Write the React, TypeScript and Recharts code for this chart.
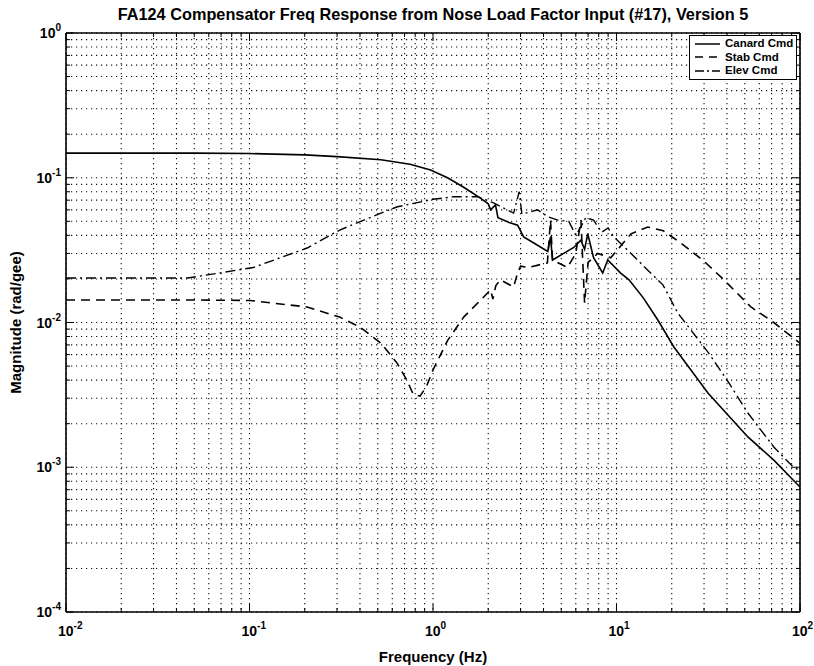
import React from 'react';
import { LineChart, Line, XAxis, YAxis, CartesianGrid, Legend } from 'recharts';

const FONT = '"Liberation Sans", Arial, sans-serif';

// decades shown on the axes
const xDecades = [0.01, 0.1, 1, 10, 100];
const yDecades = [0.0001, 0.001, 0.01, 0.1, 1];

// Canard Cmd (solid)
const canardFreq = [0.01, 0.05, 0.1, 0.2, 0.3, 0.52, 0.75, 0.97, 1.2, 1.47, 1.82, 2.0, 2.06, 2.19, 2.26, 2.6, 2.89, 3.12, 3.6, 4.22, 4.37, 4.48, 5.15, 5.85, 6.39, 6.7, 6.97, 7.5, 8.41, 8.96, 10.5, 11.7, 14, 16.8, 20.5, 31.5, 52, 72, 100];
const canardMag = [0.148, 0.148, 0.147, 0.144, 0.14, 0.133, 0.124, 0.113, 0.1, 0.086, 0.072, 0.066, 0.06, 0.065, 0.053, 0.049, 0.047, 0.039, 0.035, 0.031, 0.039, 0.027, 0.03, 0.033, 0.037, 0.032, 0.041, 0.028, 0.022, 0.027, 0.022, 0.0197, 0.0148, 0.0104, 0.0068, 0.00326, 0.00162, 0.00112, 0.00073];

// Stab Cmd (dashed)
const stabFreq = [0.01, 0.05, 0.1, 0.206, 0.31, 0.4, 0.52, 0.64, 0.72, 0.78, 0.85, 0.92, 1.0, 1.2, 1.47, 1.82, 2.06, 2.12, 2.2, 2.33, 2.75, 2.89, 3.0, 3.3, 4.2, 4.37, 4.48, 5.4, 6.0, 6.4, 6.7, 7.0, 7.9, 9.3, 12, 14.8, 18, 22.4, 30, 38.5, 54, 72, 100];
const stabMag = [0.0143, 0.0143, 0.0142, 0.0128, 0.0109, 0.0093, 0.0072, 0.0052, 0.004, 0.0032, 0.0031, 0.0036, 0.0047, 0.0075, 0.0109, 0.0143, 0.0168, 0.0145, 0.018, 0.0197, 0.0176, 0.022, 0.0245, 0.024, 0.0258, 0.051, 0.027, 0.024, 0.03, 0.051, 0.0136, 0.026, 0.03, 0.028, 0.041, 0.0457, 0.043, 0.0354, 0.0265, 0.0197, 0.0128, 0.01, 0.0072];

// Elev Cmd (dash-dot)
const elevFreq = [0.01, 0.046, 0.069, 0.105, 0.206, 0.31, 0.52, 0.64, 1.0, 1.3, 1.75, 2.14, 2.75, 2.95, 3.05, 3.72, 4.2, 4.78, 5.5, 6.0, 6.4, 6.8, 7.5, 8.3, 9.0, 9.66, 12, 14.8, 17.9, 21.6, 31.5, 41, 52, 72, 92, 100];
const elevMag = [0.0203, 0.0203, 0.022, 0.024, 0.0327, 0.0435, 0.057, 0.063, 0.071, 0.074, 0.074, 0.067, 0.057, 0.08, 0.056, 0.06, 0.054, 0.051, 0.05, 0.04, 0.046, 0.053, 0.051, 0.042, 0.045, 0.039, 0.03, 0.023, 0.0182, 0.0116, 0.00625, 0.00382, 0.00237, 0.00138, 0.001, 0.00095];

const toPoints = (fs: number[], ms: number[]) => fs.map((f, i) => ({ f, m: ms[i] }));
const canardData = toPoints(canardFreq, canardMag);
const stabData = toPoints(stabFreq, stabMag);
const elevData = toPoints(elevFreq, elevMag);

// minor ticks 1..9 per decade
const withMinors = (decades: number[]) => {
  const out: number[] = [];
  decades.slice(0, -1).forEach((d) => {
    for (let k = 1; k <= 9; k++) out.push(+(k * d).toPrecision(6));
  });
  out.push(decades[decades.length - 1]);
  return out;
};
const xTicks = withMinors(xDecades);
const yTicks = withMinors(yDecades);

const isDecade = (v: number) => Math.abs(Math.log10(v) - Math.round(Math.log10(v))) < 1e-6;

const Pow = ({ x, y, v, anchor }: any) => (
  <text x={x} y={y} textAnchor={anchor} fontSize={14} fontWeight="bold" fontFamily={FONT} fill="#000">
    <tspan>10</tspan>
    <tspan dy={-7} fontSize={10}>{Math.round(Math.log10(v))}</tspan>
  </text>
);

const BottomTick = (props: any) => {
  const { x, y, payload } = props;
  const major = isDecade(payload.value);
  return (
    <g>
      <line x1={x} x2={x} y1={y} y2={y - (major ? 8 : 4)} stroke="#000" />
      {major && <Pow x={x - 8} y={y + 24} v={payload.value} anchor="start" />}
    </g>
  );
};

const TopTick = (props: any) => {
  const { x, y, payload } = props;
  const major = isDecade(payload.value);
  return <line x1={x} x2={x} y1={y} y2={y + (major ? 8 : 4)} stroke="#000" />;
};

const LeftTick = (props: any) => {
  const { x, y, payload } = props;
  const major = isDecade(payload.value);
  return (
    <g>
      <line x1={x} x2={x + (major ? 8 : 4)} y1={y} y2={y} stroke="#000" />
      {major && <Pow x={x - 5} y={y + 5} v={payload.value} anchor="end" />}
    </g>
  );
};

const RightTick = (props: any) => {
  const { x, y, payload } = props;
  const major = isDecade(payload.value);
  return <line x1={x} x2={x - (major ? 8 : 4)} y1={y} y2={y} stroke="#000" />;
};

const legendItems = [
  { name: 'Canard Cmd', dash: undefined },
  { name: 'Stab Cmd', dash: '8 6' },
  { name: 'Elev Cmd', dash: '9 3 2 3' },
];

const renderLegend = () => (
  <div style={{ boxSizing: 'border-box', width: 108, border: '1.5px solid #000', background: '#fff', padding: '1px 2px', fontFamily: FONT, fontSize: 11.5, fontWeight: 'bold', lineHeight: '13.5px', whiteSpace: 'nowrap' }}>
    {legendItems.map((it) => (
      <div key={it.name} style={{ display: 'flex', alignItems: 'center' }}>
        <svg width={29} height={10} style={{ marginRight: 4, flex: 'none' }}>
          <line x1={3} x2={28} y1={5} y2={5} stroke="#000" strokeWidth={1.5} strokeDasharray={it.dash} />
        </svg>
        <span>{it.name}</span>
      </div>
    ))}
  </div>
);

export default function App() {
  return (
    <div style={{ position: 'absolute', left: 0, top: 0, width: 814, height: 666, background: '#fff' }}>
      <div style={{ position: 'absolute', left: 66, top: 5, width: 734, textAlign: 'center', fontFamily: FONT, fontSize: 16.3, fontWeight: 'bold', whiteSpace: 'nowrap' }}>
        FA124 Compensator Freq Response from Nose Load Factor Input (#17), Version 5
      </div>
      <LineChart width={814} height={666} margin={{ top: 0, right: 0, bottom: 0, left: 0 }}>
        <CartesianGrid xAxisId="b" yAxisId="l" stroke="#111" strokeWidth={1.1} strokeDasharray="1.2 3.8" />
        <XAxis
          xAxisId="b"
          type="number"
          dataKey="f"
          scale="log"
          domain={[0.01, 100]}
          allowDataOverflow
          ticks={xTicks}
          interval={0}
          height={54}
          tickLine={false}
          tickSize={0}
          tickMargin={0}
          tick={<BottomTick />}
          axisLine={{ stroke: '#000', strokeWidth: 1.6 }}
          label={{ value: 'Frequency (Hz)', position: 'insideBottom', offset: 4, fill: '#000', fontSize: 15, fontWeight: 'bold', fontFamily: FONT }}
        />
        <XAxis
          xAxisId="t"
          orientation="top"
          type="number"
          dataKey="f"
          scale="log"
          domain={[0.01, 100]}
          allowDataOverflow
          ticks={xTicks}
          interval={0}
          height={33}
          tickLine={false}
          tickSize={0}
          tickMargin={0}
          tick={<TopTick />}
          axisLine={{ stroke: '#000', strokeWidth: 1.6 }}
        />
        <YAxis
          yAxisId="l"
          type="number"
          dataKey="m"
          scale="log"
          domain={[0.0001, 1]}
          allowDataOverflow
          ticks={yTicks}
          interval={0}
          width={66}
          tickLine={false}
          tickSize={0}
          tickMargin={0}
          tick={<LeftTick />}
          axisLine={{ stroke: '#000', strokeWidth: 1.6 }}
          label={{ value: 'Magnitude (rad/gee)', angle: -90, position: 'insideLeft', offset: 16, fill: '#000', fontSize: 15, fontWeight: 'bold', fontFamily: FONT, style: { textAnchor: 'middle' } }}
        />
        <YAxis
          yAxisId="r"
          orientation="right"
          type="number"
          dataKey="m"
          scale="log"
          domain={[0.0001, 1]}
          allowDataOverflow
          ticks={yTicks}
          interval={0}
          width={14}
          tickLine={false}
          tickSize={0}
          tickMargin={0}
          tick={<RightTick />}
          axisLine={{ stroke: '#000', strokeWidth: 1.6 }}
        />
        <Legend
          layout="vertical"
          align="center"
          verticalAlign="middle"
          content={renderLegend}
          wrapperStyle={{ position: 'absolute', left: 689, top: 35, width: 108 }}
        />
        <Line xAxisId="b" yAxisId="l" data={canardData} dataKey="m" name="Canard Cmd" type="linear" stroke="#000" strokeWidth={1.6} dot={false} isAnimationActive={false} />
        <Line xAxisId="b" yAxisId="l" data={stabData} dataKey="m" name="Stab Cmd" type="linear" stroke="#000" strokeWidth={1.6} strokeDasharray="9 6" dot={false} isAnimationActive={false} />
        <Line xAxisId="b" yAxisId="l" data={elevData} dataKey="m" name="Elev Cmd" type="linear" stroke="#000" strokeWidth={1.4} strokeDasharray="10 4 2 4" dot={false} isAnimationActive={false} />
      </LineChart>
    </div>
  );
}
